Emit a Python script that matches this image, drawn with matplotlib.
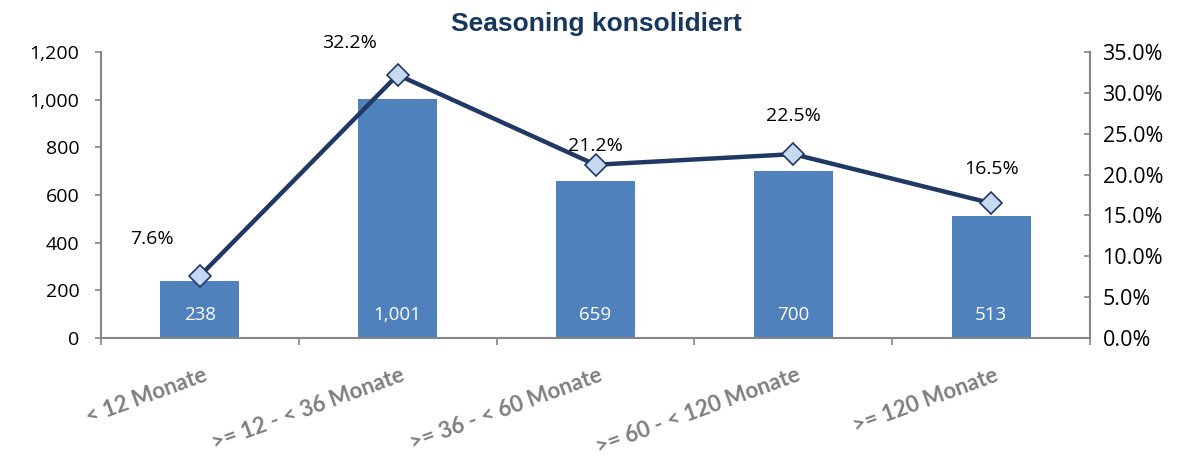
import matplotlib
matplotlib.use("Agg")
import matplotlib.pyplot as plt
from matplotlib.ticker import FuncFormatter, MultipleLocator, FixedLocator

categories = ["< 12 Monate", ">= 12 - < 36 Monate", ">= 36 - < 60 Monate",
              ">= 60 - < 120 Monate", ">= 120 Monate"]
counts = [238, 1001, 659, 700, 513]
shares = [7.6, 32.2, 21.2, 22.5, 16.5]
title = "Seasoning konsolidiert"

# label offsets for percentage labels (pixels, dx, dy)
pct_offsets = [(-48, 37), (-48, 32), (0, 19), (0, 38), (0, 34)]

fig = plt.figure(figsize=(11.92, 4.58), dpi=100)
ax = fig.add_axes([101/1192, 1-338/458, (1090-101)/1192, (338-52)/458])
ax2 = ax.twinx()

font = "Open Sans"
axis_color = "#868686"
navy = "#1F3864"

x = list(range(len(categories)))
ax.bar(x, counts, width=0.4, color="#4F81BD", zorder=2)
for xi, c in zip(x, counts):
    ax.annotate(f"{c:,}", (xi, 0), xytext=(0, 16.5), textcoords="offset points",
                ha="center", va="center", color="white", fontsize=13.5, family=font)

ax.set_xlim(-0.5, len(categories) - 0.5)
ax.set_ylim(0, 1200)
ax.yaxis.set_major_locator(MultipleLocator(200))
ax.yaxis.set_major_formatter(FuncFormatter(lambda v, p: f"{int(v):,}"))

ax2.set_ylim(0, 0.35)
ax2.yaxis.set_major_locator(MultipleLocator(0.05))
ax2.yaxis.set_major_formatter(FuncFormatter(lambda v, p: f"{v*100:.1f}%"))

ax2.plot(x, [s/100 for s in shares], color=navy, lw=3.2, marker="D",
         markersize=11, markerfacecolor="#C6D9F1", markeredgecolor=navy,
         markeredgewidth=1.2, zorder=3)
for xi, s, (dx, dy) in zip(x, shares, pct_offsets):
    ax2.annotate(f"{s:.1f}%", (xi, s/100), xytext=(dx*0.72, dy*0.72),
                 textcoords="offset points", ha="center", va="center",
                 fontsize=14, family=font, color="black")

# x ticks at category boundaries
ax.xaxis.set_major_locator(FixedLocator([i - 0.5 for i in range(len(categories) + 1)]))
ax.set_xticklabels([])
ax.tick_params(axis="x", direction="out", length=5, color=axis_color, width=1.2)
for xi, lab in zip(x, categories):
    ax.annotate(lab, (xi, 0), xytext=(2, -19), textcoords="offset points",
                xycoords=("data", "axes fraction"),
                ha="right", va="top", rotation=20, rotation_mode="anchor",
                fontsize=16, fontweight="bold", fontstyle="normal",
                color="#7F7F7F", family="Lato")

ax.tick_params(axis="y", direction="out", length=4.5, color=axis_color, width=1.2,
               labelsize=14, pad=11)
ax2.tick_params(axis="y", direction="in", length=4.5, color=axis_color, width=1.2,
                labelsize=15.5, pad=9)
for lab in ax.get_yticklabels() + ax2.get_yticklabels():
    lab.set_family(font)

for a in (ax, ax2):
    a.spines["top"].set_visible(False)
    for s in ("left", "right", "bottom"):
        a.spines[s].set_color(axis_color)
        a.spines[s].set_linewidth(1.5)
ax2.spines["left"].set_visible(False)
ax2.spines["bottom"].set_visible(False)
ax.spines["right"].set_visible(False)

fig.text(596/1192, 1-24/458, title, ha="center", va="center", fontsize=19,
         fontweight="bold", color="#17375E", family="Liberation Sans")

fig.savefig("out.png", dpi=100)
